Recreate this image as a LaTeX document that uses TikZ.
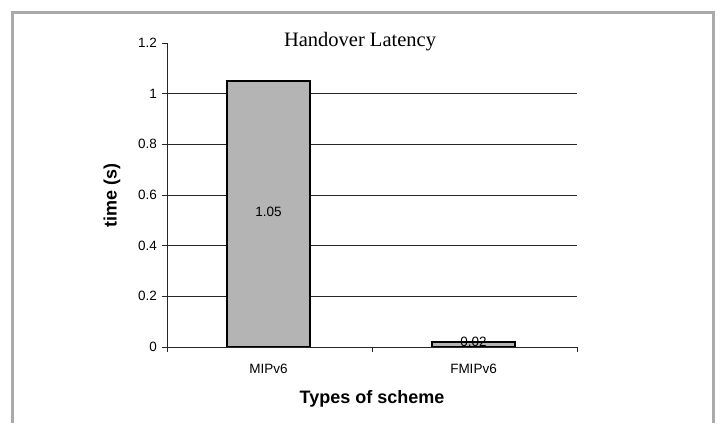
\documentclass[tikz,border=0pt]{standalone}
\usepackage{fontspec}
\setmainfont{Liberation Serif}
\setsansfont{Liberation Sans}
\definecolor{framegray}{RGB}{170,170,170}
\definecolor{bargray}{RGB}{180,180,180}
\begin{document}
\begin{tikzpicture}[x=1pt, y=-1pt,
    gridline/.style={black!85, line width=0.8pt},
    bar/.style={draw=black, fill=bargray, line width=1.1pt},
    ticklabel/.style={font=\sffamily\fontsize{13.5}{13.5}\selectfont, inner sep=0pt},
    axistitle/.style={font=\sffamily\bfseries\fontsize{18}{18}\selectfont, inner sep=0pt}
  ]
    \useasboundingbox (0,0) rectangle (720,423);
    % Frame
    \draw[framegray, line width=3pt] (12,423) -- (12,12) -- (713,12) -- (713,423);

    % Grid and y ticks
    \foreach \v/\lab in {0/0, 0.2/0.2, 0.4/0.4, 0.6/0.6, 0.8/0.8, 1/1, 1.2/1.2} {
      \pgfmathsetmacro\yy{347-253.33*\v}
      \draw[gridline] (162,\yy) -- (167,\yy);
      \node[ticklabel, anchor=east] (tick\lab) at (157,\yy) {\lab};
    }
    \foreach \v in {0.2, 0.4, 0.6, 0.8, 1} {
      \pgfmathsetmacro\yy{347-253.33*\v}
      \draw[gridline] (167,\yy) -- (577,\yy);
    }

    % Bars
    \draw[bar] (227,347) rectangle (310,81);
    \draw[bar] (432,347) rectangle (515,342);

    % Axes
    \draw[gridline] (167,43) -- (167,347) -- (577,347);
    \foreach \x in {167, 372, 577}
      \draw[gridline] (\x,347) -- (\x,352);

    % Labels
    \node[ticklabel] (val1) at (268.5,212) {1.05};
    \node[ticklabel] (val2) at (473.5,342) {0.02};
    \node[ticklabel] (mip) at (268.5,369) {MIPv6};
    \node[ticklabel] (fmip) at (473.5,369) {FMIPv6};
    \node[axistitle] (xtitle) at (372,399) {Types of scheme};
    \node[axistitle, rotate=90] (ytitle) at (112,195) {time (s)};
    \node[font=\fontsize{20.5}{20.5}\selectfont, inner sep=0pt] (title) at (360,42) {Handover Latency};
  \end{tikzpicture}
\end{document}
